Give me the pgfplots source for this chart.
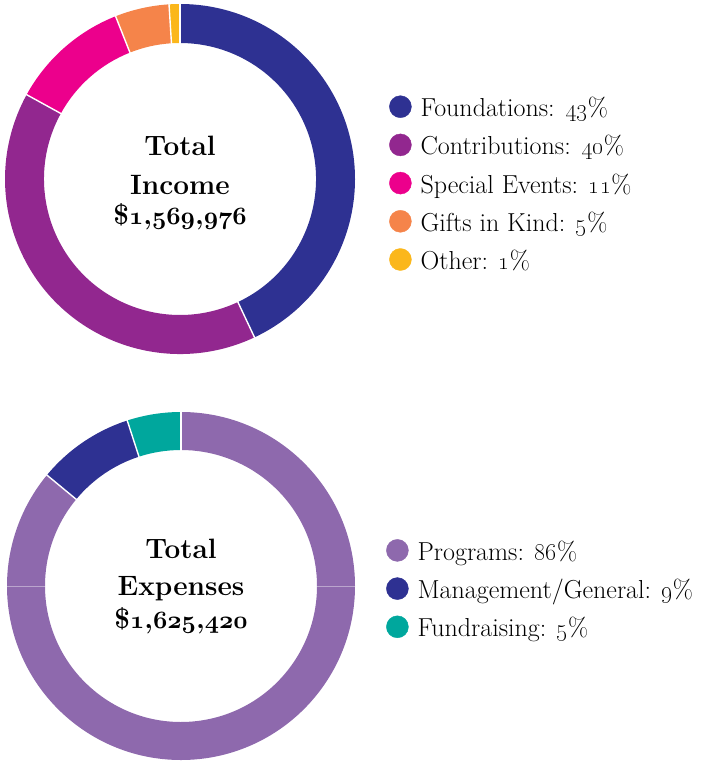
\documentclass[border=0pt]{standalone}
\usepackage{pgfplots}
\pgfplotsset{compat=1.18}
\usepackage{pgfplotstable}

\definecolor{inc0}{HTML}{2E3192}
\definecolor{inc1}{HTML}{92278F}
\definecolor{inc2}{HTML}{EC008C}
\definecolor{inc3}{HTML}{F5844A}
\definecolor{inc4}{HTML}{FBB71B}
\definecolor{exp0}{HTML}{8E69AD}
\definecolor{exp1}{HTML}{2E3192}
\definecolor{exp2}{HTML}{00A79D}

\newcommand\bos[1]{{\usefont{OML}{cmm}{b}{it}#1}}

\pgfplotstableread{
name pct
Foundations 43
Contributions 40
SpecialEvents 11
GiftsInKind 5
Other 1
}\incometable

\pgfplotstableread{
name pct
Programs 86
ManagementGeneral 9
Fundraising 5
}\expensetable

% #1 table, #2 colour prefix, #3 outer radius, #4 inner radius
\newcommand\donutring[4]{%
  \gdef\cum{0}%
  \pgfplotstableforeachcolumnelement{pct}\of#1\as\v{%
    \pgfmathsetmacro\nxt{\cum+\v}%
    \pgfmathsetmacro\ta{90-3.6*\cum}%
    \pgfmathsetmacro\tb{90-3.6*\nxt}%
    \fill[#2\pgfplotstablerow] (axis cs:0,0) ++(\ta:#3pt)
      arc[start angle=\ta,end angle=\tb,radius=#3pt]
      -- ++(\tb:{#4pt-#3pt})
      arc[start angle=\tb,end angle=\ta,radius=#4pt] -- cycle;%
    \xdef\cum{\nxt}}%
  \gdef\cum{0}%
  \pgfplotstableforeachcolumnelement{pct}\of#1\as\v{%
    \pgfmathsetmacro\ta{90-3.6*\cum}%
    \draw[white,line width=1.4pt] (axis cs:0,0) ++(\ta:{#4pt-2pt}) -- ++(\ta:{#3pt-#4pt+4pt});%
    \pgfmathsetmacro\nxt{\cum+\v}%
    \xdef\cum{\nxt}}%
}

\pgfplotsset{
  donutaxis/.style={
    x=1pt, y=1pt, hide axis, clip=false,
    legend image code/.code={\fill[##1] (11pt,10pt) circle (11pt);},
    legend style={draw=none, fill=none, inner sep=0pt, row sep=10pt,
      font=\fontsize{26}{30}\selectfont,
      cells={anchor=base west},
      nodes={inner sep=0pt, text height=19pt, text depth=7pt},
      /tikz/every odd column/.append style={column sep=9pt}},
  },
}
\tikzset{ttl/.style={anchor=base, font=\bfseries\fontsize{28}{32}\selectfont}}

\begin{document}
\begin{tikzpicture}
% ---------------- Income ----------------
\begin{axis}[donutaxis, name=top, anchor=north west, at={(0pt,0pt)},
  xmin=-180, xmax=530, ymin=-204, ymax=179,
  legend style={at={(axis cs:209,-7)}, anchor=west}]
  \addlegendimage{inc0}\addlegendentry{Foundations: \oldstylenums{43}\%}
  \addlegendimage{inc1}\addlegendentry{Contributions: \oldstylenums{40}\%}
  \addlegendimage{inc2}\addlegendentry{Special Events: \oldstylenums{11}\%}
  \addlegendimage{inc3}\addlegendentry{Gifts in Kind: \oldstylenums{5}\%}
  \addlegendimage{inc4}\addlegendentry{Other: \oldstylenums{1}\%}
  \pgfplotsextra{\donutring{\incometable}{inc}{175}{136}}
  \node[ttl] at (axis cs:0,23) {Total};
  \node[ttl] at (axis cs:0,-15) {Income};
  \node[ttl] at (axis cs:0,-45) {\$\bos{1},\bos{569},\bos{976}};
\end{axis}
% ---------------- Expenses ----------------
\begin{axis}[donutaxis, name=bot, anchor=north west, at={(0pt,-383pt)},
  xmin=-181, xmax=529, ymin=-176, ymax=203,
  legend style={at={(axis cs:205,-5.5)}, anchor=west}]
  \addlegendimage{exp0}\addlegendentry{Programs: \oldstylenums{86}\%}
  \addlegendimage{exp1}\addlegendentry{Management/General: \oldstylenums{9}\%}
  \addlegendimage{exp2}\addlegendentry{Fundraising: \oldstylenums{5}\%}
  \pgfplotsextra{\donutring{\expensetable}{exp}{174}{136}%
    \draw[white,opacity=0.4,line width=0.8pt] (axis cs:0,0) ++(0:135pt) -- ++(0:40pt);%
    \draw[white,opacity=0.4,line width=0.8pt] (axis cs:0,0) ++(180:135pt) -- ++(180:40pt);}
  \node[ttl] at (axis cs:0,28) {Total};
  \node[ttl] at (axis cs:0,-9) {Expenses};
  \node[ttl] at (axis cs:0,-42) {\$\bos{1},\bos{625},\bos{420}};
\end{axis}
\pgfresetboundingbox
\path (top.north west) rectangle (bot.south east);
\end{tikzpicture}
\end{document}
